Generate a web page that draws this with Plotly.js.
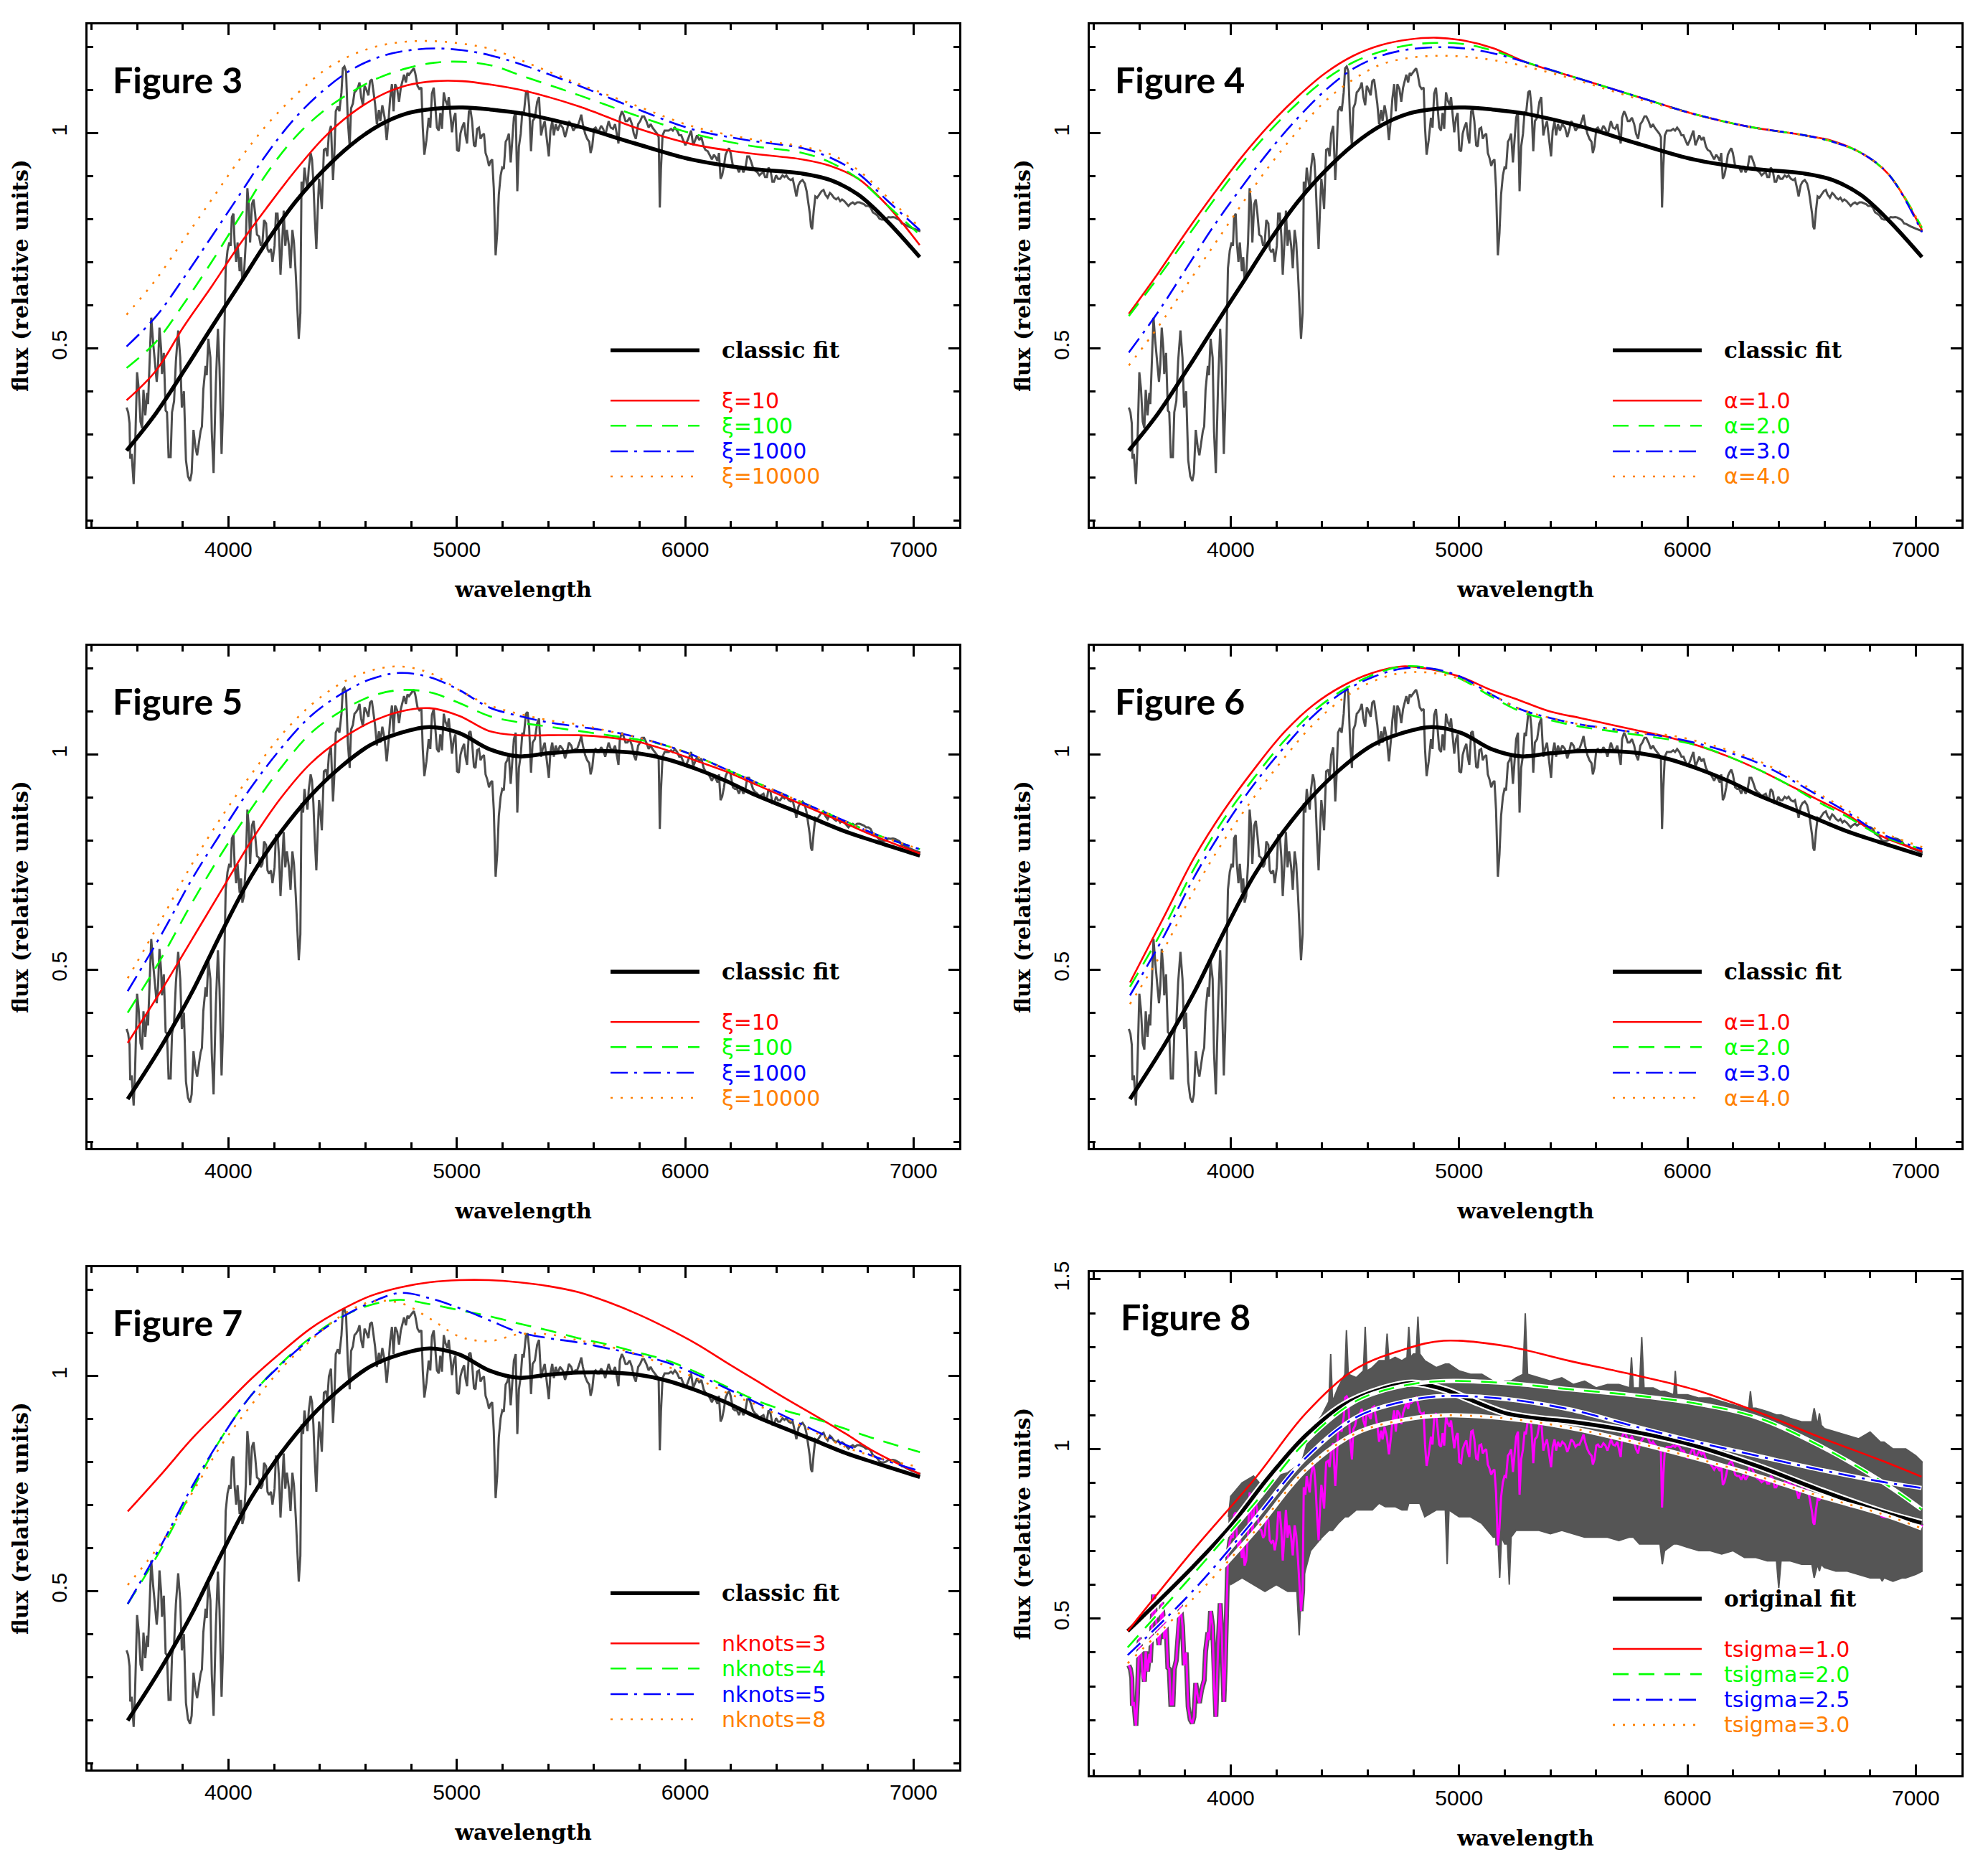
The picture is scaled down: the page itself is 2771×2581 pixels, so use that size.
<!DOCTYPE html>
<html><head><meta charset="utf-8">
<script src="https://cdn.plot.ly/plotly-3.0.1.min.js"></script>
<style>html,body{margin:0;padding:0;background:#fff;}#chart{width:2771px;height:2581px;}</style>
</head><body><div id="chart"></div>
<script>
// ---------------- DATA ----------------
const specWave = [3554,3561,3567,3570,3576,3585,3591,3600,3607,3615,3622,3628,3636,3644,3648,3656,3662,3670,3680,3686,3692,3698,3705,3709,3717,3725,3731,3738,3747,3753,3762,3770,3780,3789,3796,3805,3814,3823,3832,3839,3847,3856,3863,3872,3878,3884,3890,3900,3905,3912,3921,3927,3935,3945,3954,3961,3970,3976,3982,3988,3996,4004,4010,4015,4022,4027,4034,4040,4049,4055,4061,4068,4076,4083,4089,4095,4103,4110,4117,4125,4134,4142,4149,4156,4165,4171,4178,4186,4193,4202,4208,4215,4222,4228,4234,4242,4249,4256,4265,4272,4280,4287,4295,4302,4308,4315,4320,4327,4333,4339,4346,4352,4360,4366,4372,4378,4385,4391,4397,4403,4409,4418,4427,4433,4440,4449,4458,4464,4470,4479,4486,4495,4501,4508,4515,4523,4531,4537,4545,4552,4559,4567,4574,4581,4589,4596,4603,4613,4620,4628,4635,4642,4650,4659,4665,4674,4684,4693,4702,4708,4716,4723,4730,4739,4747,4755,4762,4769,4777,4784,4791,4800,4806,4812,4818,4828,4836,4845,4851,4858,4867,4877,4884,4891,4899,4906,4913,4921,4928,4935,4943,4950,4959,4965,4972,4979,4987,4994,5001,5009,5016,5023,5032,5038,5045,5053,5060,5067,5075,5082,5089,5097,5104,5111,5119,5126,5133,5141,5148,5155,5162,5170,5177,5184,5192,5199,5206,5214,5221,5228,5236,5243,5250,5258,5265,5272,5280,5287,5293,5303,5310,5317,5325,5332,5342,5352,5360,5369,5376,5385,5393,5403,5410,5418,5425,5433,5442,5452,5464,5474,5482,5491,5501,5510,5519,5527,5537,5545,5552,5562,5571,5580,5586,5593,5601,5608,5615,5623,5632,5641,5650,5657,5665,5674,5684,5693,5702,5708,5714,5723,5730,5739,5747,5757,5767,5775,5784,5794,5803,5812,5820,5830,5840,5849,5857,5867,5877,5884,5889,5894,5901,5910,5918,5928,5938,5946,5955,5965,5974,5983,5991,6001,6011,6019,6026,6035,6044,6052,6062,6071,6081,6089,6099,6109,6117,6126,6135,6142,6148,6155,6162,6170,6177,6184,6192,6199,6209,6218,6227,6236,6245,6255,6264,6272,6280,6288,6297,6306,6316,6325,6333,6343,6350,6358,6365,6374,6382,6389,6398,6407,6416,6426,6435,6443,6453,6463,6471,6480,6487,6496,6504,6514,6524,6532,6538,6546,6551,6556,6563,6570,6578,6587,6597,6606,6614,6624,6634,6642,6651,6661,6670,6679,6687,6697,6707,6715,6724,6734,6743,6753,6764,6773,6783,6792,6802,6812,6822,6831,6841,6851,6861,6870,6880,6890,6900,6910,6919,6929,6939,6949,6958,6968,6978,7000,7030];
const specFlux = [0.362,0.351,0.325,0.243,0.254,0.184,0.262,0.444,0.407,0.329,0.314,0.403,0.344,0.396,0.370,0.485,0.571,0.515,0.448,0.422,0.463,0.548,0.500,0.440,0.489,0.355,0.351,0.247,0.247,0.351,0.377,0.470,0.541,0.478,0.362,0.400,0.240,0.202,0.191,0.210,0.310,0.269,0.251,0.288,0.307,0.318,0.403,0.459,0.437,0.522,0.478,0.307,0.210,0.418,0.545,0.455,0.254,0.359,0.545,0.686,0.727,0.746,0.738,0.805,0.813,0.746,0.701,0.746,0.679,0.712,0.656,0.671,0.746,0.872,0.835,0.746,0.835,0.846,0.813,0.764,0.760,0.738,0.746,0.798,0.790,0.731,0.723,0.731,0.701,0.738,0.813,0.813,0.760,0.671,0.731,0.820,0.738,0.775,0.738,0.686,0.775,0.746,0.671,0.582,0.522,0.582,0.887,0.865,0.920,0.894,0.872,0.920,0.954,0.939,0.887,0.805,0.731,0.820,0.894,0.865,0.824,0.961,0.965,0.946,0.999,1.017,0.891,0.954,1.051,1.062,1.051,1.095,1.151,1.155,1.144,1.028,0.969,1.058,1.069,1.095,1.099,1.106,1.118,1.084,1.065,1.110,1.103,1.088,1.121,1.125,1.099,1.069,1.021,1.054,1.028,1.065,1.036,0.984,1.036,1.080,1.114,1.051,1.114,1.103,1.073,1.106,1.121,1.136,1.118,1.140,1.136,1.144,1.147,1.151,1.140,1.110,1.103,1.106,1.013,0.950,0.984,1.036,1.013,1.092,1.106,1.062,1.013,1.006,1.047,1.010,1.095,1.077,1.065,1.084,1.036,1.002,1.036,1.047,0.961,0.958,0.999,1.013,1.025,0.995,0.976,1.051,1.054,1.028,0.972,0.969,1.010,1.013,0.987,0.995,0.999,0.954,0.943,0.924,0.935,0.939,0.872,0.716,0.768,0.857,0.902,0.920,0.917,0.980,0.987,0.999,0.932,0.991,1.036,1.051,0.865,0.969,0.999,1.051,1.043,1.095,1.099,1.062,0.958,1.028,1.036,1.073,1.084,0.995,1.013,1.028,0.991,0.946,1.006,1.028,0.995,1.021,1.006,1.021,1.013,0.991,1.006,1.028,1.021,1.006,1.013,1.013,1.028,1.043,1.021,0.999,0.987,0.980,0.954,0.969,1.010,1.013,1.006,1.006,1.017,1.010,0.995,1.013,1.028,1.013,1.010,1.021,0.991,0.976,1.036,1.051,1.043,1.028,1.028,1.036,1.021,0.999,0.987,1.021,1.028,1.039,1.039,1.028,1.013,1.021,1.013,1.006,0.999,0.991,0.827,0.917,0.995,1.006,1.006,1.006,1.010,1.006,1.013,1.006,0.995,0.995,0.984,0.972,0.984,0.995,1.006,0.972,0.984,0.995,0.984,0.991,0.969,0.961,0.958,0.946,0.939,0.950,0.943,0.935,0.954,0.894,0.902,0.924,0.950,0.958,0.965,0.954,0.924,0.920,0.920,0.909,0.924,0.909,0.920,0.946,0.946,0.935,0.920,0.913,0.909,0.902,0.906,0.909,0.898,0.898,0.920,0.913,0.887,0.887,0.902,0.894,0.894,0.902,0.898,0.902,0.894,0.891,0.894,0.872,0.853,0.879,0.887,0.891,0.883,0.865,0.842,0.813,0.783,0.777,0.820,0.853,0.850,0.857,0.865,0.868,0.857,0.850,0.861,0.857,0.850,0.846,0.850,0.842,0.846,0.842,0.835,0.831,0.836,0.839,0.835,0.839,0.839,0.837,0.835,0.831,0.831,0.827,0.816,0.813,0.809,0.801,0.799,0.799,0.801,0.805,0.804,0.805,0.804,0.801,0.798,0.790,0.789,0.786,0.783,0.778,0.772];

// classic fit used in Figures 3 and 4
const gridA = [3554,3683,3805,3927,4049,4171,4293,4415,4537,4659,4781,4903,5025,5148,5293,5537,5781,6026,6270,6514,6636,6758,6880,7027];
const classicFitA = [0.262,0.349,0.447,0.549,0.649,0.750,0.840,0.913,0.973,1.018,1.046,1.057,1.060,1.055,1.045,1.015,0.976,0.939,0.918,0.906,0.891,0.857,0.798,0.712];
const fig3Xi10    = [0.379,0.448,0.551,0.644,0.741,0.829,0.913,0.988,1.045,1.086,1.111,1.121,1.121,1.113,1.099,1.062,1.013,0.975,0.954,0.939,0.924,0.894,0.835,0.740];
const fig3Xi100   = [0.454,0.515,0.604,0.701,0.805,0.909,0.991,1.051,1.095,1.129,1.151,1.164,1.166,1.158,1.132,1.088,1.042,1.000,0.972,0.954,0.932,0.894,0.835,0.764];
const fig3Xi1000  = [0.504,0.574,0.664,0.760,0.857,0.954,1.036,1.099,1.147,1.177,1.192,1.197,1.193,1.181,1.158,1.110,1.058,1.010,0.984,0.965,0.943,0.906,0.846,0.775];
const fig3Xi10000 = [0.578,0.660,0.753,0.846,0.939,1.021,1.088,1.144,1.181,1.203,1.213,1.214,1.208,1.196,1.167,1.114,1.065,1.017,0.988,0.969,0.951,0.914,0.854,0.781];
const fig4Alpha1  = [0.580,0.675,0.770,0.860,0.945,1.020,1.085,1.140,1.180,1.205,1.218,1.222,1.215,1.198,1.165,1.125,1.085,1.045,1.015,0.995,0.982,0.955,0.905,0.775];
const fig4Alpha2  = [0.575,0.665,0.755,0.845,0.930,1.005,1.070,1.125,1.165,1.190,1.205,1.210,1.207,1.192,1.165,1.125,1.085,1.045,1.015,0.995,0.980,0.955,0.905,0.780];
const fig4Alpha3  = [0.490,0.585,0.685,0.785,0.875,0.960,1.035,1.100,1.150,1.180,1.195,1.200,1.197,1.186,1.165,1.125,1.085,1.045,1.015,0.995,0.980,0.955,0.905,0.770];
const fig4Alpha4  = [0.460,0.550,0.645,0.740,0.835,0.925,1.005,1.075,1.125,1.160,1.175,1.180,1.178,1.170,1.155,1.120,1.080,1.045,1.015,0.995,0.980,0.955,0.905,0.780];

// classic fit used in Figures 5, 6 and 7
const gridB = [3559,3710,3840,3970,4101,4231,4361,4491,4621,4751,4881,5011,5141,5271,5401,5532,5662,5792,5922,6052,6182,6312,6442,6572,6702,6832,7028];
const classicFitB = [0.199,0.325,0.447,0.587,0.718,0.821,0.905,0.971,1.022,1.050,1.064,1.050,1.013,0.996,1.003,1.008,1.008,1.003,0.989,0.966,0.938,0.905,0.877,0.849,0.821,0.798,0.765];
const fig5Xi10    = [0.330,0.455,0.570,0.685,0.800,0.900,0.980,1.035,1.075,1.100,1.108,1.090,1.055,1.045,1.045,1.045,1.040,1.030,1.010,0.985,0.960,0.930,0.900,0.870,0.840,0.810,0.770];
const fig5Xi100   = [0.400,0.530,0.655,0.770,0.875,0.970,1.050,1.100,1.135,1.150,1.145,1.120,1.090,1.075,1.065,1.055,1.045,1.035,1.020,0.995,0.965,0.935,0.905,0.875,0.845,0.815,0.780];
const fig5Xi1000  = [0.450,0.585,0.710,0.820,0.925,1.015,1.090,1.140,1.175,1.190,1.180,1.150,1.110,1.090,1.075,1.065,1.055,1.040,1.020,0.995,0.965,0.935,0.905,0.875,0.845,0.815,0.780];
const fig5Xi10000 = [0.480,0.620,0.745,0.855,0.955,1.045,1.115,1.165,1.195,1.205,1.190,1.150,1.115,1.095,1.080,1.070,1.055,1.040,1.020,0.995,0.965,0.935,0.905,0.875,0.845,0.815,0.780];
const fig6Alpha1  = [0.470,0.625,0.760,0.870,0.965,1.050,1.115,1.160,1.190,1.205,1.198,1.180,1.150,1.125,1.100,1.085,1.070,1.055,1.040,1.020,0.995,0.965,0.930,0.895,0.860,0.815,0.775];
const fig6Alpha2  = [0.460,0.600,0.735,0.850,0.945,1.030,1.100,1.150,1.185,1.205,1.200,1.175,1.135,1.100,1.080,1.065,1.055,1.045,1.035,1.020,0.995,0.965,0.930,0.890,0.855,0.815,0.780];
const fig6Alpha3  = [0.440,0.580,0.715,0.830,0.930,1.015,1.090,1.145,1.180,1.200,1.200,1.180,1.140,1.105,1.085,1.070,1.060,1.050,1.040,1.025,1.005,0.980,0.945,0.905,0.865,0.820,0.780];
const fig6Alpha4  = [0.420,0.550,0.685,0.800,0.900,0.990,1.070,1.130,1.170,1.190,1.190,1.175,1.140,1.105,1.085,1.070,1.060,1.050,1.045,1.030,1.010,0.985,0.950,0.910,0.870,0.825,0.785];
const fig7Knots3  = [0.685,0.774,0.854,0.924,0.994,1.055,1.111,1.153,1.186,1.206,1.218,1.223,1.223,1.218,1.209,1.195,1.172,1.144,1.111,1.074,1.031,0.989,0.947,0.907,0.866,0.823,0.772];
const fig7Knots4  = [0.470,0.602,0.733,0.857,0.956,1.029,1.090,1.136,1.165,1.177,1.167,1.153,1.139,1.122,1.106,1.088,1.073,1.055,1.036,1.008,0.975,0.943,0.919,0.900,0.877,0.854,0.823];
const fig7Knots5  = [0.470,0.611,0.742,0.857,0.956,1.027,1.087,1.135,1.170,1.193,1.181,1.158,1.130,1.102,1.088,1.078,1.064,1.050,1.031,1.003,0.971,0.938,0.905,0.872,0.840,0.812,0.779];
const fig7Knots8  = [0.514,0.615,0.727,0.840,0.933,1.017,1.083,1.139,1.172,1.170,1.134,1.092,1.081,1.097,1.097,1.083,1.069,1.050,1.022,0.994,0.961,0.933,0.900,0.868,0.835,0.812,0.788];

// Figure 8
const gridC = [3549,3835,4109,4329,4548,4767,4932,5206,5481,5755,6030,6304,6578,6853,7025];
const fig8Ts10 = [0.463,0.701,0.915,1.105,1.236,1.295,1.319,1.303,1.260,1.220,1.175,1.110,1.035,0.965,0.918];
const fig8Ts20 = [0.415,0.630,0.843,1.022,1.141,1.188,1.200,1.194,1.176,1.159,1.135,1.093,1.010,0.903,0.822];
const fig8Ts25 = [0.392,0.582,0.796,0.974,1.093,1.141,1.156,1.147,1.117,1.069,1.022,0.980,0.939,0.903,0.885];
const fig8Ts30 = [0.368,0.558,0.760,0.939,1.046,1.087,1.099,1.090,1.063,1.022,0.974,0.921,0.861,0.808,0.766];
const origFitWave = [3549,3835,3999,4164,4329,4493,4658,4795,4932,5042,5206,5344,5481,5755,6030,6304,6578,6853,7025];
const origFitFlux = [0.463,0.653,0.772,0.915,1.040,1.129,1.176,1.194,1.176,1.147,1.105,1.090,1.081,1.052,1.010,0.950,0.879,0.814,0.782];
// envelope of the noisy spectrum (Figure 8)
const noiseWave  = [3990,4000,4050,4100,4150,4200,4250,4290,4300,4310,4350,4400,4430,4438,4446,4470,4500,4507,4515,4550,4581,4589,4597,4620,4650,4677,4685,4693,4720,4750,4772,4780,4788,4800,4812,4820,4828,4850,4900,4940,4948,4956,5000,5050,5100,5150,5170,5178,5186,5200,5212,5220,5228,5250,5280,5290,5300,5350,5400,5450,5500,5550,5600,5650,5700,5747,5755,5763,5790,5800,5810,5850,5880,5890,5900,5940,5947,5954,6000,6050,6100,6150,6200,6250,6268,6276,6284,6300,6350,6390,6400,6410,6450,6500,6545,6555,6570,6578,6586,6600,6650,6700,6750,6800,6845,6853,6861,6900,6942,6949,6956,7000,7030];
const noiseUpper = [0.80,0.86,0.90,0.92,0.88,0.92,0.93,0.95,0.95,0.96,1.05,1.10,1.14,1.28,1.14,1.18,1.22,1.35,1.22,1.21,1.23,1.36,1.23,1.24,1.26,1.26,1.34,1.26,1.27,1.26,1.27,1.36,1.27,1.28,1.28,1.39,1.28,1.26,1.24,1.25,1.25,1.25,1.23,1.22,1.22,1.20,1.19,1.19,1.19,1.20,1.20,1.20,1.20,1.21,1.22,1.40,1.22,1.21,1.20,1.21,1.19,1.20,1.18,1.19,1.19,1.18,1.27,1.18,1.18,1.33,1.18,1.18,1.17,1.17,1.17,1.16,1.23,1.16,1.16,1.15,1.15,1.14,1.13,1.12,1.12,1.17,1.12,1.12,1.11,1.10,1.10,1.10,1.09,1.08,1.08,1.12,1.07,1.105,1.07,1.06,1.05,1.04,1.03,1.05,1.02,1.02,1.02,1.00,1.00,1.00,1.00,0.98,0.96];
const noiseLower = [0.62,0.60,0.62,0.60,0.58,0.60,0.58,0.58,0.45,0.60,0.70,0.74,0.76,0.76,0.76,0.78,0.80,0.80,0.80,0.82,0.82,0.82,0.82,0.82,0.84,0.83,0.83,0.83,0.83,0.82,0.82,0.84,0.84,0.84,0.84,0.84,0.84,0.80,0.82,0.82,0.66,0.82,0.80,0.80,0.78,0.74,0.74,0.62,0.74,0.72,0.72,0.60,0.74,0.76,0.76,0.76,0.76,0.76,0.75,0.76,0.75,0.74,0.74,0.74,0.73,0.74,0.74,0.74,0.72,0.72,0.72,0.72,0.72,0.66,0.70,0.72,0.72,0.72,0.71,0.70,0.70,0.69,0.70,0.68,0.68,0.68,0.68,0.68,0.67,0.67,0.59,0.67,0.67,0.66,0.66,0.62,0.66,0.64,0.66,0.65,0.64,0.64,0.63,0.62,0.62,0.61,0.62,0.61,0.62,0.62,0.62,0.63,0.64];

const xTickVals = [4000,5000,6000,7000];
const yTickVals = [0.5,1];
const yTickVals8 = [0.5,1,1.5];
const figureNames = ['Figure 3','Figure 4','Figure 5','Figure 6','Figure 7','Figure 8'];
const xiLabels = ['ξ=10','ξ=100','ξ=1000','ξ=10000'];
const alphaLabels = ['α=1.0','α=2.0','α=3.0','α=4.0'];
const knotLabels = ['nknots=3','nknots=4','nknots=5','nknots=8'];
const tsigmaLabels = ['tsigma=1.0','tsigma=2.0','tsigma=2.5','tsigma=3.0'];
const fitLabels = ['classic fit','classic fit','classic fit','classic fit','classic fit','original fit'];

// ---------------- STYLE / LAYOUT ----------------
const W = 2771, H = 2581;
const COLORS = ['#ff0000','#00ff00','#0000ff','#ff8000'];
const DASHES = ['solid','22px,14px','24px,9px,4px,9px','3px,11px'];
const panelsPx = [
  {x:[122,1337], y:[34,734]},
  {x:[1519,2734], y:[34,734]},
  {x:[122,1337], y:[900,1600]},
  {x:[1519,2734], y:[900,1600]},
  {x:[122,1337], y:[1766,2466]},
  {x:[1519,2734], y:[1773,2474]}
];
const panelSeries = [
  {grid:gridA, fit:[gridA,classicFitA], curves:[fig3Xi10,fig3Xi100,fig3Xi1000,fig3Xi10000], labels:xiLabels},
  {grid:gridA, fit:[gridA,classicFitA], curves:[fig4Alpha1,fig4Alpha2,fig4Alpha3,fig4Alpha4], labels:alphaLabels},
  {grid:gridB, fit:[gridB,classicFitB], curves:[fig5Xi10,fig5Xi100,fig5Xi1000,fig5Xi10000], labels:xiLabels},
  {grid:gridB, fit:[gridB,classicFitB], curves:[fig6Alpha1,fig6Alpha2,fig6Alpha3,fig6Alpha4], labels:alphaLabels},
  {grid:gridB, fit:[gridB,classicFitB], curves:[fig7Knots3,fig7Knots4,fig7Knots5,fig7Knots8], labels:knotLabels},
  {grid:gridC, fit:[origFitWave,origFitFlux], curves:[fig8Ts10,fig8Ts20,fig8Ts25,fig8Ts30], labels:tsigmaLabels}
];

const TICKFONT = {family:'Liberation Sans, Arial, sans-serif', size:30, color:'#000'};
const TITLEFONT = {family:'DejaVu Serif, serif', size:30, color:'#000', weight:'bold'};
const traces = [];
const layout = {
  width:W, height:H, margin:{l:0,r:0,t:0,b:0,pad:0},
  paper_bgcolor:'#fff', plot_bgcolor:'#fff', showlegend:false,
  shapes:[], annotations:[]
};

panelsPx.forEach((p,i)=>{
  const n = i===0 ? '' : String(i+1);
  const xa = 'x'+n, ya = 'y'+n;
  const is8 = (i===5);
  layout['xaxis'+n] = {
    domain:[p.x[0]/W, p.x[1]/W], anchor:ya, range:[3383,7200],
    showline:true, linecolor:'#000', linewidth:3, mirror:'allticks',
    ticks:'inside', ticklen:15, tickwidth:3, tickcolor:'#000',
    tickmode:'array', tickvals:xTickVals, ticktext:xTickVals.map(String),
    minor:{tickmode:'linear', tick0:0, dtick:200, ticks:'inside', ticklen:8, tickwidth:3, tickcolor:'#000', showgrid:false},
    showgrid:false, zeroline:false, tickfont:TICKFONT, ticklabelstandoff:3,
    title:{text:'wavelength', font:TITLEFONT, standoff:30}
  };
  layout['yaxis'+n] = {
    domain:[1-p.y[1]/H, 1-p.y[0]/H], anchor:xa,
    range: is8 ? [0.038,1.521] : [0.085,1.253],
    showline:true, linecolor:'#000', linewidth:3, mirror:'allticks',
    ticks:'inside', ticklen:15, tickwidth:3, tickcolor:'#000',
    tickmode:'array', tickvals: is8 ? yTickVals8 : yTickVals, ticktext:(is8 ? yTickVals8 : yTickVals).map(String),
    minor:{tickmode:'linear', tick0:0, dtick:0.1, ticks:'inside', ticklen:8, tickwidth:3, tickcolor:'#000', showgrid:false},
    showgrid:false, zeroline:false, tickfont:TICKFONT, tickangle:-90, ticklabelstandoff:14,
    title:{text:'flux (relative units)', font:TITLEFONT, standoff:18}
  };

  const s = panelSeries[i];
  if (is8) {
    traces.push({x:specWave, y:specFlux, xaxis:xa, yaxis:ya, mode:'lines', line:{color:'#555555', width:7}, hoverinfo:'skip'});
    traces.push({x:noiseWave, y:noiseLower, xaxis:xa, yaxis:ya, mode:'lines', line:{color:'#555555', width:2}, hoverinfo:'skip'});
    traces.push({x:noiseWave, y:noiseUpper, xaxis:xa, yaxis:ya, mode:'lines', fill:'tonexty', fillcolor:'#555555', line:{color:'#555555', width:2}, hoverinfo:'skip'});
    traces.push({x:specWave, y:specFlux, xaxis:xa, yaxis:ya, mode:'lines', line:{color:'#ff00ff', width:3}});
  } else {
    traces.push({x:specWave, y:specFlux, xaxis:xa, yaxis:ya, mode:'lines', line:{color:'#4d4d4d', width:3}});
  }
  if (is8) traces.push({x:s.fit[0], y:s.fit[1], xaxis:xa, yaxis:ya, mode:'lines', line:{color:'#ffffff', width:10, shape:'spline'}});
  traces.push({x:s.fit[0], y:s.fit[1], xaxis:xa, yaxis:ya, mode:'lines', line:{color:'#000000', width:5.5, shape:'spline'}});
  s.curves.forEach((c,k)=>{
    if (is8 && k>0) traces.push({x:s.grid, y:c, xaxis:xa, yaxis:ya, mode:'lines', line:{color:'#ffffff', width:6, shape:'spline'}});
    traces.push({x:s.grid, y:c, xaxis:xa, yaxis:ya, mode:'lines', line:{color:COLORS[k], width:2.6, dash:DASHES[k], shape:'spline'}});
  });

  layout.annotations.push({xref:xa+' domain', yref:ya+' domain', x: is8 ? 0.034 : 0.027, y: is8 ? 0.912 : 0.89,
    xanchor:'left', yanchor:'middle', showarrow:false, text:figureNames[i],
    font:{family:'Lato, Roboto, sans-serif', size:50, color:'#000', weight:'bold'}});
  const ly = [0.351,0.251,0.201,0.150,0.100];
  layout.shapes.push({type:'line', xref:xa+' domain', yref:ya+' domain', x0:0.600, x1:0.702, y0:ly[0], y1:ly[0], line:{color:'#000', width:5.5}});
  layout.annotations.push({xref:xa+' domain', yref:ya+' domain', x:0.726, y:ly[0], xanchor:'left', yanchor:'middle', showarrow:false,
    text:fitLabels[i], font:{family:'DejaVu Serif, serif', size:31, color:'#000', weight:'bold'}});
  s.labels.forEach((lab,k)=>{
    layout.shapes.push({type:'line', xref:xa+' domain', yref:ya+' domain', x0:0.600, x1:0.702, y0:ly[k+1], y1:ly[k+1], line:{color:COLORS[k], width:2.6, dash:DASHES[k]}});
    layout.annotations.push({xref:xa+' domain', yref:ya+' domain', x:0.726, y:ly[k+1], xanchor:'left', yanchor:'middle', showarrow:false,
      text:lab, font:{family:'DejaVu Sans, sans-serif', size:30, color:COLORS[k]}});
  });
});

Plotly.newPlot('chart', traces, layout, {staticPlot:true, displayModeBar:false});
</script></body></html>
